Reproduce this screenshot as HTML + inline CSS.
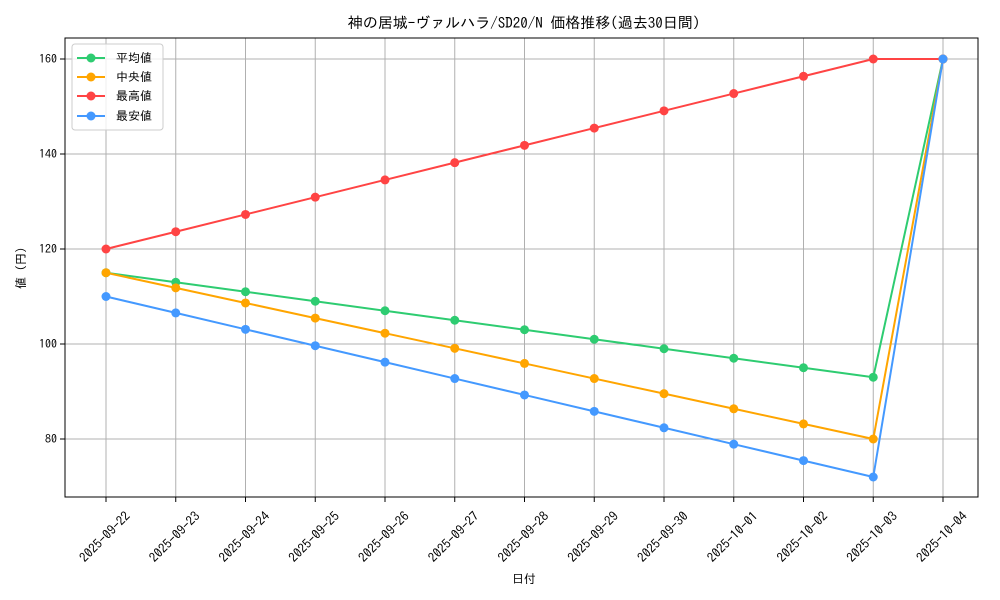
<!DOCTYPE html>
<html><head><meta charset="utf-8"><style>body{margin:0;background:#fff}svg{display:block}text{font-family:"IPAGothic","Noto Sans CJK JP",monospace;fill:#000}</style></head><body>
<svg width="1000" height="600" xmlns="http://www.w3.org/2000/svg">
<rect width="1000" height="600" fill="#fff"/>
<text x="524" y="28" font-size="15" text-anchor="middle">神の居城-ヴァルハラ/SD20/N 価格推移(過去30日間)</text>
<g stroke="#b0b0b0" stroke-width="1">
<line x1="106" y1="38" x2="106" y2="497"/><line x1="175.75" y1="38" x2="175.75" y2="497"/><line x1="245.5" y1="38" x2="245.5" y2="497"/><line x1="315.25" y1="38" x2="315.25" y2="497"/><line x1="385" y1="38" x2="385" y2="497"/><line x1="454.75" y1="38" x2="454.75" y2="497"/><line x1="524.5" y1="38" x2="524.5" y2="497"/><line x1="594.25" y1="38" x2="594.25" y2="497"/><line x1="664" y1="38" x2="664" y2="497"/><line x1="733.75" y1="38" x2="733.75" y2="497"/><line x1="803.5" y1="38" x2="803.5" y2="497"/><line x1="873.25" y1="38" x2="873.25" y2="497"/><line x1="943" y1="38" x2="943" y2="497"/>
<line x1="65" y1="59" x2="978" y2="59"/><line x1="65" y1="154" x2="978" y2="154"/><line x1="65" y1="249" x2="978" y2="249"/><line x1="65" y1="344" x2="978" y2="344"/><line x1="65" y1="439" x2="978" y2="439"/>
</g>
<rect x="65" y="38" width="913" height="459" fill="none" stroke="#000" stroke-width="1"/>
<g stroke="#000"><line x1="60" y1="59" x2="65" y2="59"/><line x1="60" y1="154" x2="65" y2="154"/><line x1="60" y1="249" x2="65" y2="249"/><line x1="60" y1="344" x2="65" y2="344"/><line x1="60" y1="439" x2="65" y2="439"/>
<line x1="106" y1="497" x2="106" y2="502"/><line x1="175.75" y1="497" x2="175.75" y2="502"/><line x1="245.5" y1="497" x2="245.5" y2="502"/><line x1="315.25" y1="497" x2="315.25" y2="502"/><line x1="385" y1="497" x2="385" y2="502"/><line x1="454.75" y1="497" x2="454.75" y2="502"/><line x1="524.5" y1="497" x2="524.5" y2="502"/><line x1="594.25" y1="497" x2="594.25" y2="502"/><line x1="664" y1="497" x2="664" y2="502"/><line x1="733.75" y1="497" x2="733.75" y2="502"/><line x1="803.5" y1="497" x2="803.5" y2="502"/><line x1="873.25" y1="497" x2="873.25" y2="502"/><line x1="943" y1="497" x2="943" y2="502"/></g>
<g font-size="12" text-anchor="end"><text x="57" y="63">160</text><text x="57" y="158">140</text><text x="57" y="253">120</text><text x="57" y="348">100</text><text x="57" y="443">80</text></g>
<g font-size="13" text-anchor="middle">
<text transform="translate(108,540) rotate(-45)">2025-09-22</text><text transform="translate(177.75,540) rotate(-45)">2025-09-23</text><text transform="translate(247.5,540) rotate(-45)">2025-09-24</text><text transform="translate(317.25,540) rotate(-45)">2025-09-25</text><text transform="translate(387,540) rotate(-45)">2025-09-26</text><text transform="translate(456.75,540) rotate(-45)">2025-09-27</text><text transform="translate(526.5,540) rotate(-45)">2025-09-28</text><text transform="translate(596.25,540) rotate(-45)">2025-09-29</text><text transform="translate(666,540) rotate(-45)">2025-09-30</text><text transform="translate(735.75,540) rotate(-45)">2025-10-01</text><text transform="translate(805.5,540) rotate(-45)">2025-10-02</text><text transform="translate(875.25,540) rotate(-45)">2025-10-03</text><text transform="translate(945,540) rotate(-45)">2025-10-04</text>
</g>
<text x="524" y="583" font-size="12" text-anchor="middle">日付</text>
<text transform="translate(25,268) rotate(-90)" font-size="12" text-anchor="middle">値 (円)</text>
<g fill="none" stroke-width="2">
<polyline stroke="#2ecc71" points="106,272.75 175.75,282.25 245.5,291.75 315.25,301.25 385,310.75 454.75,320.25 524.5,329.75 594.25,339.25 664,348.75 733.75,358.25 803.5,367.75 873.25,377.25 943,59"/>
<polyline stroke="#ffa500" points="106,272.75 175.75,287.86 245.5,302.98 315.25,318.09 385,333.2 454.75,348.32 524.5,363.43 594.25,378.55 664,393.66 733.75,408.77 803.5,423.89 873.25,439 943,59"/>
<polyline stroke="#ff4444" points="106,249 175.75,231.73 245.5,214.45 315.25,197.18 385,179.91 454.75,162.64 524.5,145.36 594.25,128.09 664,110.82 733.75,93.55 803.5,76.27 873.25,59 943,59"/>
<polyline stroke="#4499ff" points="106,296.5 175.75,312.91 245.5,329.32 315.25,345.73 385,362.14 454.75,378.55 524.5,394.95 594.25,411.36 664,427.77 733.75,444.18 803.5,460.59 873.25,477 943,59"/>
</g>
<g fill="#2ecc71"><circle cx="106" cy="272.75" r="4.5"/><circle cx="175.75" cy="282.25" r="4.5"/><circle cx="245.5" cy="291.75" r="4.5"/><circle cx="315.25" cy="301.25" r="4.5"/><circle cx="385" cy="310.75" r="4.5"/><circle cx="454.75" cy="320.25" r="4.5"/><circle cx="524.5" cy="329.75" r="4.5"/><circle cx="594.25" cy="339.25" r="4.5"/><circle cx="664" cy="348.75" r="4.5"/><circle cx="733.75" cy="358.25" r="4.5"/><circle cx="803.5" cy="367.75" r="4.5"/><circle cx="873.25" cy="377.25" r="4.5"/><circle cx="943" cy="59" r="4.5"/></g>
<g fill="#ffa500"><circle cx="106" cy="272.75" r="4.5"/><circle cx="175.75" cy="287.86" r="4.5"/><circle cx="245.5" cy="302.98" r="4.5"/><circle cx="315.25" cy="318.09" r="4.5"/><circle cx="385" cy="333.2" r="4.5"/><circle cx="454.75" cy="348.32" r="4.5"/><circle cx="524.5" cy="363.43" r="4.5"/><circle cx="594.25" cy="378.55" r="4.5"/><circle cx="664" cy="393.66" r="4.5"/><circle cx="733.75" cy="408.77" r="4.5"/><circle cx="803.5" cy="423.89" r="4.5"/><circle cx="873.25" cy="439" r="4.5"/><circle cx="943" cy="59" r="4.5"/></g>
<g fill="#ff4444"><circle cx="106" cy="249" r="4.5"/><circle cx="175.75" cy="231.73" r="4.5"/><circle cx="245.5" cy="214.45" r="4.5"/><circle cx="315.25" cy="197.18" r="4.5"/><circle cx="385" cy="179.91" r="4.5"/><circle cx="454.75" cy="162.64" r="4.5"/><circle cx="524.5" cy="145.36" r="4.5"/><circle cx="594.25" cy="128.09" r="4.5"/><circle cx="664" cy="110.82" r="4.5"/><circle cx="733.75" cy="93.55" r="4.5"/><circle cx="803.5" cy="76.27" r="4.5"/><circle cx="873.25" cy="59" r="4.5"/><circle cx="943" cy="59" r="4.5"/></g>
<g fill="#4499ff"><circle cx="106" cy="296.5" r="4.5"/><circle cx="175.75" cy="312.91" r="4.5"/><circle cx="245.5" cy="329.32" r="4.5"/><circle cx="315.25" cy="345.73" r="4.5"/><circle cx="385" cy="362.14" r="4.5"/><circle cx="454.75" cy="378.55" r="4.5"/><circle cx="524.5" cy="394.95" r="4.5"/><circle cx="594.25" cy="411.36" r="4.5"/><circle cx="664" cy="427.77" r="4.5"/><circle cx="733.75" cy="444.18" r="4.5"/><circle cx="803.5" cy="460.59" r="4.5"/><circle cx="873.25" cy="477" r="4.5"/><circle cx="943" cy="59" r="4.5"/></g>
<rect x="72" y="44" width="91" height="86" rx="3" fill="#fff" fill-opacity="0.8" stroke="#ccc"/>
<g stroke-width="2"><line x1="77" y1="58" x2="105" y2="58" stroke="#2ecc71"/><line x1="77" y1="77" x2="105" y2="77" stroke="#ffa500"/><line x1="77" y1="96" x2="105" y2="96" stroke="#ff4444"/><line x1="77" y1="116" x2="105" y2="116" stroke="#4499ff"/></g>
<circle cx="91" cy="58" r="4.5" fill="#2ecc71"/><circle cx="91" cy="77" r="4.5" fill="#ffa500"/><circle cx="91" cy="96" r="4.5" fill="#ff4444"/><circle cx="91" cy="116" r="4.5" fill="#4499ff"/>
<g font-size="12"><text x="116" y="62">平均値</text><text x="116" y="81">中央値</text><text x="116" y="100">最高値</text><text x="116" y="120">最安値</text></g>
</svg>
</body></html>
